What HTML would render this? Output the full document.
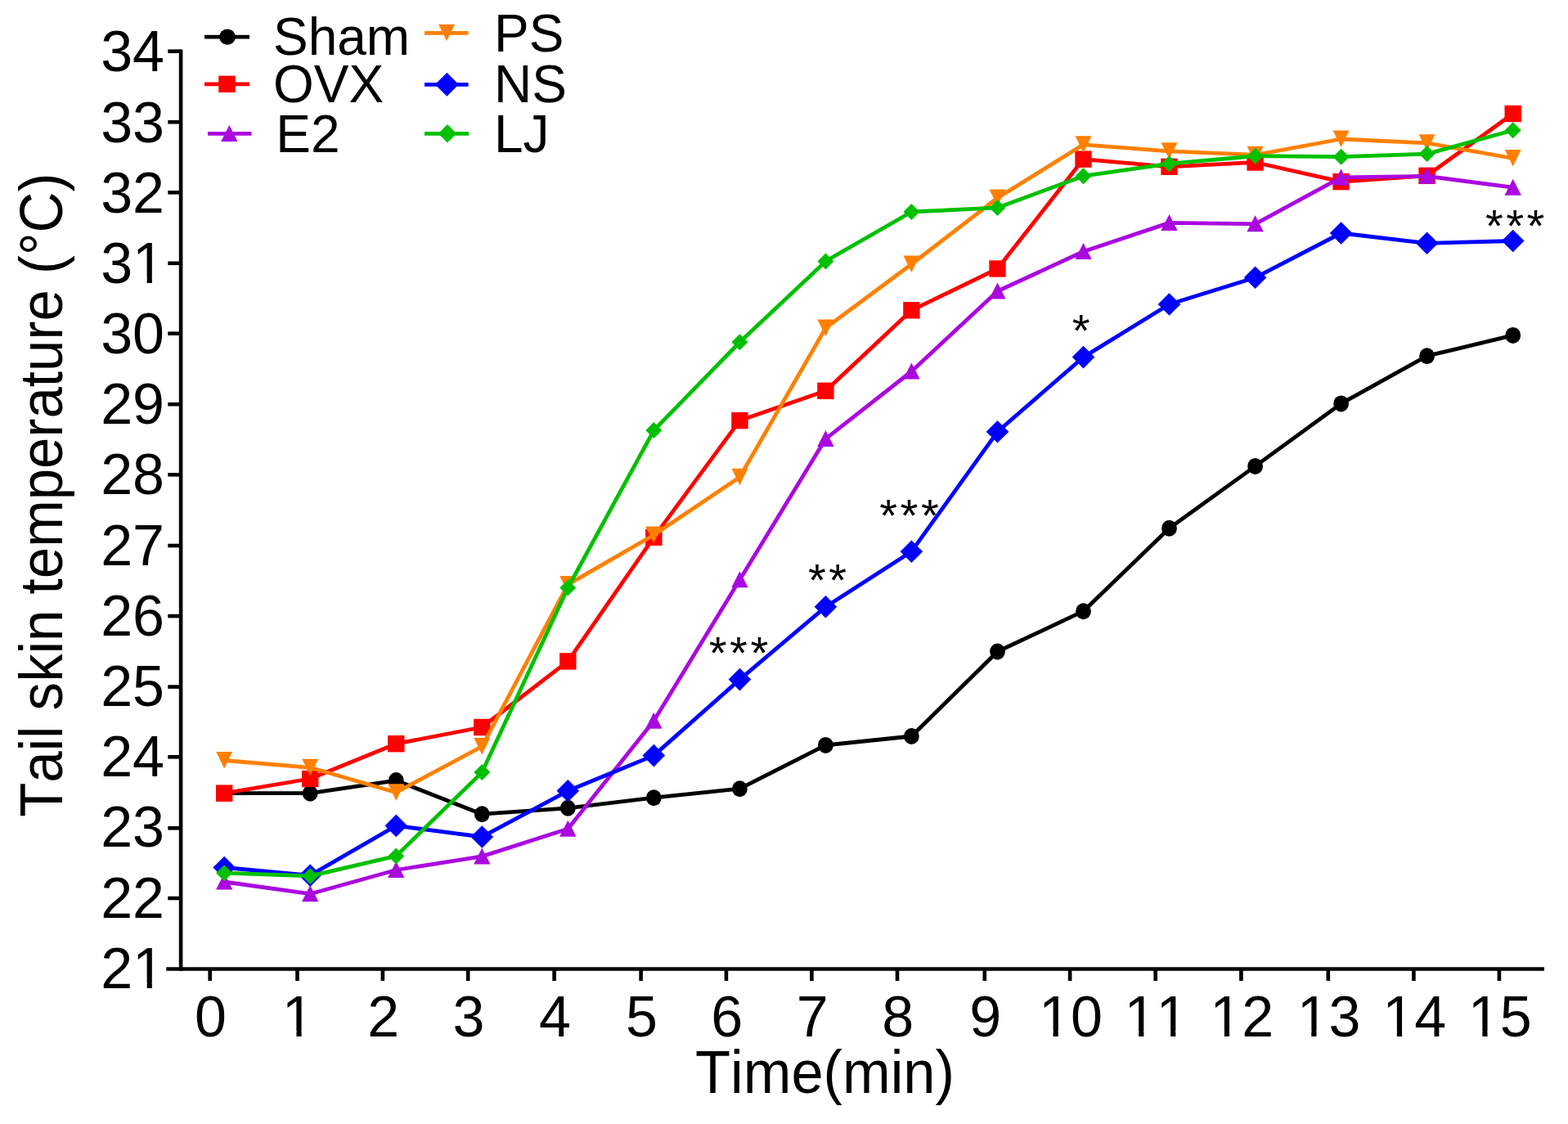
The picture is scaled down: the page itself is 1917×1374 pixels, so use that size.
<!DOCTYPE html>
<html><head><meta charset="utf-8"><title>Tail skin temperature</title>
<style>
html,body{margin:0;padding:0;background:#fff;}
svg{display:block;}
text{font-family:"Liberation Sans",Arial,sans-serif;fill:#000;font-kerning:none;}
</style></head><body>
<svg width="1917" height="1374" viewBox="0 0 1917 1374">
<rect width="1917" height="1374" fill="#fff"/>
<line x1="221.1" y1="60.4" x2="221.1" y2="1186.8" stroke="#000" stroke-width="4.6"/>
<line x1="203.3" y1="1184.5" x2="1888" y2="1184.5" stroke="#000" stroke-width="4.6"/>
<line x1="205.3" y1="62.7" x2="221.1" y2="62.7" stroke="#000" stroke-width="4.6"/>
<line x1="205.3" y1="149.2" x2="221.1" y2="149.2" stroke="#000" stroke-width="4.6"/>
<line x1="205.3" y1="235.3" x2="221.1" y2="235.3" stroke="#000" stroke-width="4.6"/>
<line x1="205.3" y1="321.8" x2="221.1" y2="321.8" stroke="#000" stroke-width="4.6"/>
<line x1="205.3" y1="407.7" x2="221.1" y2="407.7" stroke="#000" stroke-width="4.6"/>
<line x1="205.3" y1="494.2" x2="221.1" y2="494.2" stroke="#000" stroke-width="4.6"/>
<line x1="205.3" y1="580.3" x2="221.1" y2="580.3" stroke="#000" stroke-width="4.6"/>
<line x1="205.3" y1="667.0" x2="221.1" y2="667.0" stroke="#000" stroke-width="4.6"/>
<line x1="205.3" y1="753.1" x2="221.1" y2="753.1" stroke="#000" stroke-width="4.6"/>
<line x1="205.3" y1="839.6" x2="221.1" y2="839.6" stroke="#000" stroke-width="4.6"/>
<line x1="205.3" y1="925.3" x2="221.1" y2="925.3" stroke="#000" stroke-width="4.6"/>
<line x1="205.3" y1="1012.3" x2="221.1" y2="1012.3" stroke="#000" stroke-width="4.6"/>
<line x1="205.3" y1="1098.0" x2="221.1" y2="1098.0" stroke="#000" stroke-width="4.6"/>
<line x1="256.7" y1="1184.5" x2="256.7" y2="1199" stroke="#000" stroke-width="4.6"/>
<line x1="363.5" y1="1184.5" x2="363.5" y2="1199" stroke="#000" stroke-width="4.6"/>
<line x1="467.9" y1="1184.5" x2="467.9" y2="1199" stroke="#000" stroke-width="4.6"/>
<line x1="572.2" y1="1184.5" x2="572.2" y2="1199" stroke="#000" stroke-width="4.6"/>
<line x1="677.6" y1="1184.5" x2="677.6" y2="1199" stroke="#000" stroke-width="4.6"/>
<line x1="783.6" y1="1184.5" x2="783.6" y2="1199" stroke="#000" stroke-width="4.6"/>
<line x1="887.9" y1="1184.5" x2="887.9" y2="1199" stroke="#000" stroke-width="4.6"/>
<line x1="992.4" y1="1184.5" x2="992.4" y2="1199" stroke="#000" stroke-width="4.6"/>
<line x1="1097.0" y1="1184.5" x2="1097.0" y2="1199" stroke="#000" stroke-width="4.6"/>
<line x1="1203.8" y1="1184.5" x2="1203.8" y2="1199" stroke="#000" stroke-width="4.6"/>
<line x1="1308.1" y1="1184.5" x2="1308.1" y2="1199" stroke="#000" stroke-width="4.6"/>
<line x1="1412.7" y1="1184.5" x2="1412.7" y2="1199" stroke="#000" stroke-width="4.6"/>
<line x1="1517.4" y1="1184.5" x2="1517.4" y2="1199" stroke="#000" stroke-width="4.6"/>
<line x1="1623.8" y1="1184.5" x2="1623.8" y2="1199" stroke="#000" stroke-width="4.6"/>
<line x1="1728.4" y1="1184.5" x2="1728.4" y2="1199" stroke="#000" stroke-width="4.6"/>
<line x1="1832.9" y1="1184.5" x2="1832.9" y2="1199" stroke="#000" stroke-width="4.6"/>
<polyline points="274.2,969.7 379.2,969.7 484.3,954.1 589.3,995.2 694.3,987.8 799.3,975.2 904.4,964.2 1009.4,910.9 1114.4,900.0 1219.5,796.5 1324.5,747.2 1429.5,645.8 1534.6,569.9 1639.6,493.4 1744.6,435.2 1849.7,409.9" fill="none" stroke="#000000" stroke-width="4.8" stroke-linejoin="round"/>
<ellipse cx="274.2" cy="969.7" rx="9.4" ry="10.0" fill="#000000"/>
<ellipse cx="379.2" cy="969.7" rx="9.4" ry="10.0" fill="#000000"/>
<ellipse cx="484.3" cy="954.1" rx="9.4" ry="10.0" fill="#000000"/>
<ellipse cx="589.3" cy="995.2" rx="9.4" ry="10.0" fill="#000000"/>
<ellipse cx="694.3" cy="987.8" rx="9.4" ry="10.0" fill="#000000"/>
<ellipse cx="799.3" cy="975.2" rx="9.4" ry="10.0" fill="#000000"/>
<ellipse cx="904.4" cy="964.2" rx="9.4" ry="10.0" fill="#000000"/>
<ellipse cx="1009.4" cy="910.9" rx="9.4" ry="10.0" fill="#000000"/>
<ellipse cx="1114.4" cy="900.0" rx="9.4" ry="10.0" fill="#000000"/>
<ellipse cx="1219.5" cy="796.5" rx="9.4" ry="10.0" fill="#000000"/>
<ellipse cx="1324.5" cy="747.2" rx="9.4" ry="10.0" fill="#000000"/>
<ellipse cx="1429.5" cy="645.8" rx="9.4" ry="10.0" fill="#000000"/>
<ellipse cx="1534.6" cy="569.9" rx="9.4" ry="10.0" fill="#000000"/>
<ellipse cx="1639.6" cy="493.4" rx="9.4" ry="10.0" fill="#000000"/>
<ellipse cx="1744.6" cy="435.2" rx="9.4" ry="10.0" fill="#000000"/>
<ellipse cx="1849.7" cy="409.9" rx="9.4" ry="10.0" fill="#000000"/>
<polyline points="274.2,969.7 379.2,952.0 484.3,909.2 589.3,889.0 694.3,808.4 799.3,656.8 904.4,514.1 1009.4,477.8 1114.4,379.3 1219.5,328.5 1324.5,194.6 1429.5,203.8 1534.6,198.5 1639.6,222.1 1744.6,214.8 1849.7,139.0" fill="none" stroke="#ff0000" stroke-width="4.8" stroke-linejoin="round"/>
<rect x="264.0" y="959.5" width="20.4" height="20.4" fill="#ff0000"/>
<rect x="369.0" y="941.8" width="20.4" height="20.4" fill="#ff0000"/>
<rect x="474.1" y="899.0" width="20.4" height="20.4" fill="#ff0000"/>
<rect x="579.1" y="878.8" width="20.4" height="20.4" fill="#ff0000"/>
<rect x="684.1" y="798.2" width="20.4" height="20.4" fill="#ff0000"/>
<rect x="789.1" y="646.6" width="20.4" height="20.4" fill="#ff0000"/>
<rect x="894.2" y="503.9" width="20.4" height="20.4" fill="#ff0000"/>
<rect x="999.2" y="467.6" width="20.4" height="20.4" fill="#ff0000"/>
<rect x="1104.2" y="369.1" width="20.4" height="20.4" fill="#ff0000"/>
<rect x="1209.3" y="318.3" width="20.4" height="20.4" fill="#ff0000"/>
<rect x="1314.3" y="184.4" width="20.4" height="20.4" fill="#ff0000"/>
<rect x="1419.3" y="193.6" width="20.4" height="20.4" fill="#ff0000"/>
<rect x="1524.4" y="188.3" width="20.4" height="20.4" fill="#ff0000"/>
<rect x="1629.4" y="211.9" width="20.4" height="20.4" fill="#ff0000"/>
<rect x="1734.4" y="204.6" width="20.4" height="20.4" fill="#ff0000"/>
<rect x="1839.5" y="128.8" width="20.4" height="20.4" fill="#ff0000"/>
<polyline points="274.2,1078.0 379.2,1092.7 484.3,1063.5 589.3,1046.9 694.3,1013.2 799.3,881.2 904.4,708.8 1009.4,536.5 1114.4,454.0 1219.5,356.0 1324.5,307.5 1429.5,272.4 1534.6,273.8 1639.6,216.9 1744.6,215.3 1849.7,229.2" fill="none" stroke="#aa08e0" stroke-width="4.8" stroke-linejoin="round"/>
<polygon points="274.2,1067.5 284.4,1087.5 264.0,1087.5" fill="#aa08e0"/>
<polygon points="379.2,1082.2 389.4,1102.2 369.0,1102.2" fill="#aa08e0"/>
<polygon points="484.3,1053.0 494.5,1073.0 474.1,1073.0" fill="#aa08e0"/>
<polygon points="589.3,1036.4 599.5,1056.4 579.1,1056.4" fill="#aa08e0"/>
<polygon points="694.3,1002.7 704.5,1022.7 684.1,1022.7" fill="#aa08e0"/>
<polygon points="799.3,870.7 809.5,890.7 789.1,890.7" fill="#aa08e0"/>
<polygon points="904.4,698.3 914.6,718.3 894.2,718.3" fill="#aa08e0"/>
<polygon points="1009.4,526.0 1019.6,546.0 999.2,546.0" fill="#aa08e0"/>
<polygon points="1114.4,443.5 1124.6,463.5 1104.2,463.5" fill="#aa08e0"/>
<polygon points="1219.5,345.5 1229.7,365.5 1209.3,365.5" fill="#aa08e0"/>
<polygon points="1324.5,297.0 1334.7,317.0 1314.3,317.0" fill="#aa08e0"/>
<polygon points="1429.5,261.9 1439.7,281.9 1419.3,281.9" fill="#aa08e0"/>
<polygon points="1534.6,263.3 1544.8,283.3 1524.4,283.3" fill="#aa08e0"/>
<polygon points="1639.6,206.4 1649.8,226.4 1629.4,226.4" fill="#aa08e0"/>
<polygon points="1744.6,204.8 1754.8,224.8 1734.4,224.8" fill="#aa08e0"/>
<polygon points="1849.7,218.7 1859.9,238.7 1839.5,238.7" fill="#aa08e0"/>
<polyline points="274.2,929.5 379.2,938.3 484.3,968.7 589.3,912.5 694.3,714.6 799.3,654.0 904.4,583.2 1009.4,401.0 1114.4,323.0 1219.5,242.0 1324.5,176.8 1429.5,184.8 1534.6,189.3 1639.6,170.0 1744.6,174.8 1849.7,193.5" fill="none" stroke="#ff8000" stroke-width="4.8" stroke-linejoin="round"/>
<polygon points="264.2,919.0 284.2,919.0 274.2,939.5" fill="#ff8000"/>
<polygon points="369.2,927.8 389.2,927.8 379.2,948.3" fill="#ff8000"/>
<polygon points="474.3,958.2 494.3,958.2 484.3,978.7" fill="#ff8000"/>
<polygon points="579.3,902.0 599.3,902.0 589.3,922.5" fill="#ff8000"/>
<polygon points="684.3,704.1 704.3,704.1 694.3,724.6" fill="#ff8000"/>
<polygon points="789.3,643.5 809.3,643.5 799.3,664.0" fill="#ff8000"/>
<polygon points="894.4,572.7 914.4,572.7 904.4,593.2" fill="#ff8000"/>
<polygon points="999.4,390.5 1019.4,390.5 1009.4,411.0" fill="#ff8000"/>
<polygon points="1104.4,312.5 1124.4,312.5 1114.4,333.0" fill="#ff8000"/>
<polygon points="1209.5,231.5 1229.5,231.5 1219.5,252.0" fill="#ff8000"/>
<polygon points="1314.5,166.3 1334.5,166.3 1324.5,186.8" fill="#ff8000"/>
<polygon points="1419.5,174.3 1439.5,174.3 1429.5,194.8" fill="#ff8000"/>
<polygon points="1524.6,178.8 1544.6,178.8 1534.6,199.3" fill="#ff8000"/>
<polygon points="1629.6,159.5 1649.6,159.5 1639.6,180.0" fill="#ff8000"/>
<polygon points="1734.6,164.3 1754.6,164.3 1744.6,184.8" fill="#ff8000"/>
<polygon points="1839.7,183.0 1859.7,183.0 1849.7,203.5" fill="#ff8000"/>
<polyline points="274.2,1060.5 379.2,1070.1 484.3,1009.4 589.3,1023.0 694.3,966.8 799.3,923.6 904.4,830.6 1009.4,741.8 1114.4,674.2 1219.5,527.8 1324.5,436.6 1429.5,372.0 1534.6,339.3 1639.6,285.0 1744.6,297.3 1849.7,294.5" fill="none" stroke="#0000ff" stroke-width="4.8" stroke-linejoin="round"/>
<polygon points="274.2,1046.7 288.0,1060.5 274.2,1074.3 260.4,1060.5" fill="#0000ff"/>
<polygon points="379.2,1056.3 393.0,1070.1 379.2,1083.9 365.4,1070.1" fill="#0000ff"/>
<polygon points="484.3,995.6 498.1,1009.4 484.3,1023.2 470.5,1009.4" fill="#0000ff"/>
<polygon points="589.3,1009.2 603.1,1023.0 589.3,1036.8 575.5,1023.0" fill="#0000ff"/>
<polygon points="694.3,953.0 708.1,966.8 694.3,980.6 680.5,966.8" fill="#0000ff"/>
<polygon points="799.3,909.8 813.1,923.6 799.3,937.4 785.5,923.6" fill="#0000ff"/>
<polygon points="904.4,816.8 918.2,830.6 904.4,844.4 890.6,830.6" fill="#0000ff"/>
<polygon points="1009.4,728.0 1023.2,741.8 1009.4,755.6 995.6,741.8" fill="#0000ff"/>
<polygon points="1114.4,660.4 1128.2,674.2 1114.4,688.0 1100.6,674.2" fill="#0000ff"/>
<polygon points="1219.5,514.0 1233.3,527.8 1219.5,541.6 1205.7,527.8" fill="#0000ff"/>
<polygon points="1324.5,422.8 1338.3,436.6 1324.5,450.4 1310.7,436.6" fill="#0000ff"/>
<polygon points="1429.5,358.2 1443.3,372.0 1429.5,385.8 1415.7,372.0" fill="#0000ff"/>
<polygon points="1534.6,325.5 1548.4,339.3 1534.6,353.1 1520.8,339.3" fill="#0000ff"/>
<polygon points="1639.6,271.2 1653.4,285.0 1639.6,298.8 1625.8,285.0" fill="#0000ff"/>
<polygon points="1744.6,283.5 1758.4,297.3 1744.6,311.1 1730.8,297.3" fill="#0000ff"/>
<polygon points="1849.7,280.7 1863.5,294.5 1849.7,308.3 1835.9,294.5" fill="#0000ff"/>
<polyline points="274.2,1067.2 379.2,1070.9 484.3,1046.4 589.3,944.1 694.3,718.5 799.3,526.1 904.4,418.3 1009.4,319.4 1114.4,259.0 1219.5,253.9 1324.5,215.2 1429.5,200.2 1534.6,190.7 1639.6,191.7 1744.6,188.1 1849.7,159.3" fill="none" stroke="#00c000" stroke-width="4.8" stroke-linejoin="round"/>
<polygon points="274.2,1057.2 284.2,1067.2 274.2,1077.2 264.2,1067.2" fill="#00c000"/>
<polygon points="379.2,1060.9 389.2,1070.9 379.2,1080.9 369.2,1070.9" fill="#00c000"/>
<polygon points="484.3,1036.4 494.3,1046.4 484.3,1056.4 474.3,1046.4" fill="#00c000"/>
<polygon points="589.3,934.1 599.3,944.1 589.3,954.1 579.3,944.1" fill="#00c000"/>
<polygon points="694.3,708.5 704.3,718.5 694.3,728.5 684.3,718.5" fill="#00c000"/>
<polygon points="799.3,516.1 809.3,526.1 799.3,536.1 789.3,526.1" fill="#00c000"/>
<polygon points="904.4,408.3 914.4,418.3 904.4,428.3 894.4,418.3" fill="#00c000"/>
<polygon points="1009.4,309.4 1019.4,319.4 1009.4,329.4 999.4,319.4" fill="#00c000"/>
<polygon points="1114.4,249.0 1124.4,259.0 1114.4,269.0 1104.4,259.0" fill="#00c000"/>
<polygon points="1219.5,243.9 1229.5,253.9 1219.5,263.9 1209.5,253.9" fill="#00c000"/>
<polygon points="1324.5,205.2 1334.5,215.2 1324.5,225.2 1314.5,215.2" fill="#00c000"/>
<polygon points="1429.5,190.2 1439.5,200.2 1429.5,210.2 1419.5,200.2" fill="#00c000"/>
<polygon points="1534.6,180.7 1544.6,190.7 1534.6,200.7 1524.6,190.7" fill="#00c000"/>
<polygon points="1639.6,181.7 1649.6,191.7 1639.6,201.7 1629.6,191.7" fill="#00c000"/>
<polygon points="1744.6,178.1 1754.6,188.1 1744.6,198.1 1734.6,188.1" fill="#00c000"/>
<polygon points="1849.7,149.3 1859.7,159.3 1849.7,169.3 1839.7,159.3" fill="#00c000"/>
<defs><mask id="nofoot" maskUnits="userSpaceOnUse" x="0" y="0" width="1917" height="1374"><rect x="0" y="0" width="1917" height="1374" fill="#fff"/><rect x="165.83" y="1201.17" width="13.84" height="8.23" fill="#000"/><rect x="185.86" y="1201.17" width="13.47" height="8.23" fill="#000"/><rect x="165.83" y="339.37" width="13.84" height="8.23" fill="#000"/><rect x="185.86" y="339.37" width="13.47" height="8.23" fill="#000"/><rect x="348.59" y="1260.07" width="13.84" height="8.23" fill="#000"/><rect x="368.62" y="1260.07" width="13.47" height="8.23" fill="#000"/><rect x="1273.73" y="1260.07" width="13.84" height="8.23" fill="#000"/><rect x="1293.76" y="1260.07" width="13.47" height="8.23" fill="#000"/><rect x="1378.33" y="1260.07" width="13.84" height="8.23" fill="#000"/><rect x="1398.36" y="1260.07" width="13.47" height="8.23" fill="#000"/><rect x="1417.26" y="1260.07" width="13.84" height="8.23" fill="#000"/><rect x="1437.29" y="1260.07" width="13.47" height="8.23" fill="#000"/><rect x="1483.03" y="1260.07" width="13.84" height="8.23" fill="#000"/><rect x="1503.06" y="1260.07" width="13.47" height="8.23" fill="#000"/><rect x="1589.43" y="1260.07" width="13.84" height="8.23" fill="#000"/><rect x="1609.46" y="1260.07" width="13.47" height="8.23" fill="#000"/><rect x="1694.03" y="1260.07" width="13.84" height="8.23" fill="#000"/><rect x="1714.06" y="1260.07" width="13.47" height="8.23" fill="#000"/><rect x="1798.53" y="1260.07" width="13.84" height="8.23" fill="#000"/><rect x="1818.56" y="1260.07" width="13.47" height="8.23" fill="#000"/></mask></defs>
<g mask="url(#nofoot)">
<text x="201" y="1207.7" text-anchor="end" font-size="70">21</text>
<text x="201" y="1121.5" text-anchor="end" font-size="70">22</text>
<text x="201" y="1035.3" text-anchor="end" font-size="70">23</text>
<text x="201" y="949.2" text-anchor="end" font-size="70">24</text>
<text x="201" y="863.0" text-anchor="end" font-size="70">25</text>
<text x="201" y="776.8" text-anchor="end" font-size="70">26</text>
<text x="201" y="690.6" text-anchor="end" font-size="70">27</text>
<text x="201" y="604.4" text-anchor="end" font-size="70">28</text>
<text x="201" y="518.3" text-anchor="end" font-size="70">29</text>
<text x="201" y="432.1" text-anchor="end" font-size="70">30</text>
<text x="201" y="345.9" text-anchor="end" font-size="70">31</text>
<text x="201" y="259.7" text-anchor="end" font-size="70">32</text>
<text x="201" y="173.5" text-anchor="end" font-size="70">33</text>
<text x="201" y="87.4" text-anchor="end" font-size="70">34</text>
<text x="257.5" y="1266.6" text-anchor="middle" font-size="70">0</text>
<text x="364.3" y="1266.6" text-anchor="middle" font-size="70">1</text>
<text x="468.7" y="1266.6" text-anchor="middle" font-size="70">2</text>
<text x="573.0" y="1266.6" text-anchor="middle" font-size="70">3</text>
<text x="678.4" y="1266.6" text-anchor="middle" font-size="70">4</text>
<text x="784.4" y="1266.6" text-anchor="middle" font-size="70">5</text>
<text x="888.7" y="1266.6" text-anchor="middle" font-size="70">6</text>
<text x="993.2" y="1266.6" text-anchor="middle" font-size="70">7</text>
<text x="1097.8" y="1266.6" text-anchor="middle" font-size="70">8</text>
<text x="1204.6" y="1266.6" text-anchor="middle" font-size="70">9</text>
<text x="1308.9" y="1266.6" text-anchor="middle" font-size="70">10</text>
<text x="1413.5" y="1266.6" text-anchor="middle" font-size="70">11</text>
<text x="1518.2" y="1266.6" text-anchor="middle" font-size="70">12</text>
<text x="1624.6" y="1266.6" text-anchor="middle" font-size="70">13</text>
<text x="1729.2" y="1266.6" text-anchor="middle" font-size="70">14</text>
<text x="1833.7" y="1266.6" text-anchor="middle" font-size="70">15</text>
</g>
<text transform="translate(1008.5,1336) scale(0.992,1.035)" text-anchor="middle" font-size="71">Time(min)</text>
<text transform="translate(75.5,605.2) rotate(-90) scale(0.9726,1.04)" text-anchor="middle" font-size="71">Tail skin temperature (°C)</text>
<line x1="250" y1="45.1" x2="305" y2="45.1" stroke="#000000" stroke-width="4.8"/>
<ellipse cx="278.0" cy="45.1" rx="9.9" ry="9.7" fill="#000000"/>
<text transform="translate(334,67.0) scale(1,1.025)" font-size="64">Sham</text>
<line x1="250" y1="102.8" x2="305" y2="102.8" stroke="#ff0000" stroke-width="4.8"/>
<rect x="267.3" y="92.6" width="20.4" height="20.4" fill="#ff0000"/>
<text transform="translate(334,125) scale(1,1.025)" font-size="64">OVX</text>
<line x1="254" y1="163.4" x2="307.5" y2="163.4" stroke="#aa08e0" stroke-width="4.8"/>
<polygon points="280.4,152.9 290.6,172.9 270.2,172.9" fill="#aa08e0"/>
<text transform="translate(337.3,186.3) scale(1,1.025)" font-size="64">E2</text>
<line x1="519" y1="40.3" x2="572.6" y2="40.3" stroke="#ff8000" stroke-width="4.8"/>
<polygon points="536.1,29.8 556.1,29.8 546.1,50.3" fill="#ff8000"/>
<text transform="translate(604,62.5) scale(1,1.025)" font-size="64">PS</text>
<line x1="519" y1="103.3" x2="572.6" y2="103.3" stroke="#0000ff" stroke-width="4.8"/>
<polygon points="546.4,88.8 560.9,103.3 546.4,117.8 531.9,103.3" fill="#0000ff"/>
<text transform="translate(604,125) scale(1,1.025)" font-size="64">NS</text>
<line x1="519" y1="163.3" x2="573" y2="163.3" stroke="#00c000" stroke-width="4.8"/>
<polygon points="547.0,152.1 558.2,163.3 547.0,174.5 535.8,163.3" fill="#00c000"/>
<text transform="translate(604,186.3) scale(1,1.025)" font-size="64">LJ</text>
<text x="904.75" y="816.8" text-anchor="middle" font-size="56" letter-spacing="3.5">***</text>
<text x="1013.25" y="727.6" text-anchor="middle" font-size="56" letter-spacing="3.5">**</text>
<text x="1113.25" y="648.9" text-anchor="middle" font-size="56" letter-spacing="3.5">***</text>
<text x="1323.45" y="423.0" text-anchor="middle" font-size="56" letter-spacing="3.5">*</text>
<text x="1853.85" y="295.0" text-anchor="middle" font-size="56" letter-spacing="3.5">***</text>
</svg>
</body></html>
